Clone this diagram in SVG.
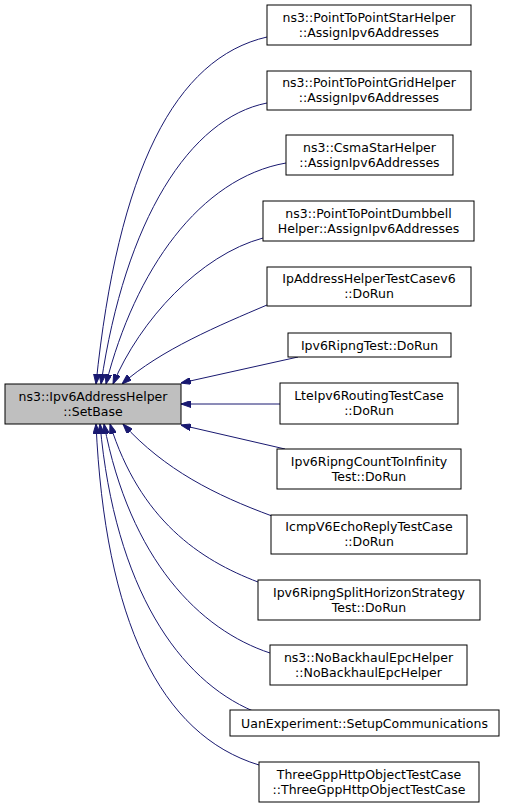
<svg xmlns="http://www.w3.org/2000/svg" width="515" height="808" viewBox="0 0 515 808">
<defs>
<style>
.n rect{fill:#ffffff;stroke:#000000;stroke-width:1}
.m rect{fill:#bfbfbf;stroke:#000000;stroke-width:1}
text{font-family:"DejaVu Sans","Liberation Sans",sans-serif;font-size:12.5px;text-anchor:middle;fill:#000000}
.e path{fill:none;stroke:#191970;stroke-width:1;marker-end:url(#ah)}
</style>
<marker id="ah" viewBox="0 0 10 7" refX="10" refY="3.5" markerWidth="10" markerHeight="7" markerUnits="userSpaceOnUse" orient="auto">
<path d="M0,0 L10,3.5 L0,7 Z" fill="#191970" stroke="#191970" stroke-width="1"/>
</marker>
</defs>
<rect width="515" height="808" fill="#ffffff"/>
<g class="e" id="edges">
<path d="M267,37 C175,58 118,170 96,384"/>
<path d="M267,103 C190,118 125,220 101,384"/>
<path d="M286,163 C200,178 135,270 106,384"/>
<path d="M263,238 C200,255 140,320 113,384"/>
<path d="M267,305 C220,325 160,350 122,384"/>
<path d="M298,357 L181,383"/>
<path d="M280,404 L181,404"/>
<path d="M285,449 L181,425"/>
<path d="M272,516 C215,495 165,470 123,424"/>
<path d="M258,582 C200,560 140,520 110,424"/>
<path d="M270,653 C200,630 130,560 104,424"/>
<path d="M253,711 C180,680 115,590 100,424"/>
<path d="M259,765 C160,735 105,620 96,424"/>
</g>
<g class="m" id="node-main"><rect x="5" y="384" width="176" height="40"/><text x="93" y="401">ns3::Ipv6AddressHelper</text><text x="93" y="416">::SetBase</text></g>
<g class="n" id="node-1"><rect x="267" y="5" width="204" height="40"/><text x="369" y="22">ns3::PointToPointStarHelper</text><text x="369" y="37">::AssignIpv6Addresses</text></g>
<g class="n" id="node-2"><rect x="267" y="71" width="204" height="39"/><text x="369" y="87">ns3::PointToPointGridHelper</text><text x="369" y="102">::AssignIpv6Addresses</text></g>
<g class="n" id="node-3"><rect x="286" y="135" width="167" height="40"/><text x="369.5" y="152">ns3::CsmaStarHelper</text><text x="369.5" y="167">::AssignIpv6Addresses</text></g>
<g class="n" id="node-4"><rect x="263" y="201" width="211" height="40"/><text x="368.5" y="218">ns3::PointToPointDumbbell</text><text x="368.5" y="233">Helper::AssignIpv6Addresses</text></g>
<g class="n" id="node-5"><rect x="267" y="267" width="204" height="39"/><text x="369" y="283">IpAddressHelperTestCasev6</text><text x="369" y="298">::DoRun</text></g>
<g class="n" id="node-6"><rect x="288" y="333" width="163" height="24"/><text x="369.5" y="349.5">Ipv6RipngTest::DoRun</text></g>
<g class="n" id="node-7"><rect x="280" y="383" width="178" height="41"/><text x="369" y="400">LteIpv6RoutingTestCase</text><text x="369" y="415">::DoRun</text></g>
<g class="n" id="node-8"><rect x="277" y="449" width="184" height="40"/><text x="369" y="466">Ipv6RipngCountToInfinity</text><text x="369" y="481">Test::DoRun</text></g>
<g class="n" id="node-9"><rect x="271" y="515" width="196" height="39"/><text x="369" y="531">IcmpV6EchoReplyTestCase</text><text x="369" y="546">::DoRun</text></g>
<g class="n" id="node-10"><rect x="258" y="580" width="222" height="40"/><text x="369" y="597">Ipv6RipngSplitHorizonStrategy</text><text x="369" y="612">Test::DoRun</text></g>
<g class="n" id="node-11"><rect x="270" y="645" width="197" height="40"/><text x="368.5" y="662">ns3::NoBackhaulEpcHelper</text><text x="368.5" y="677">::NoBackhaulEpcHelper</text></g>
<g class="n" id="node-12"><rect x="230" y="710" width="269" height="26"/><text x="364.5" y="727.5">UanExperiment::SetupCommunications</text></g>
<g class="n" id="node-13"><rect x="259" y="762" width="220" height="40"/><text x="369" y="779">ThreeGppHttpObjectTestCase</text><text x="369" y="794">::ThreeGppHttpObjectTestCase</text></g>
</svg>
